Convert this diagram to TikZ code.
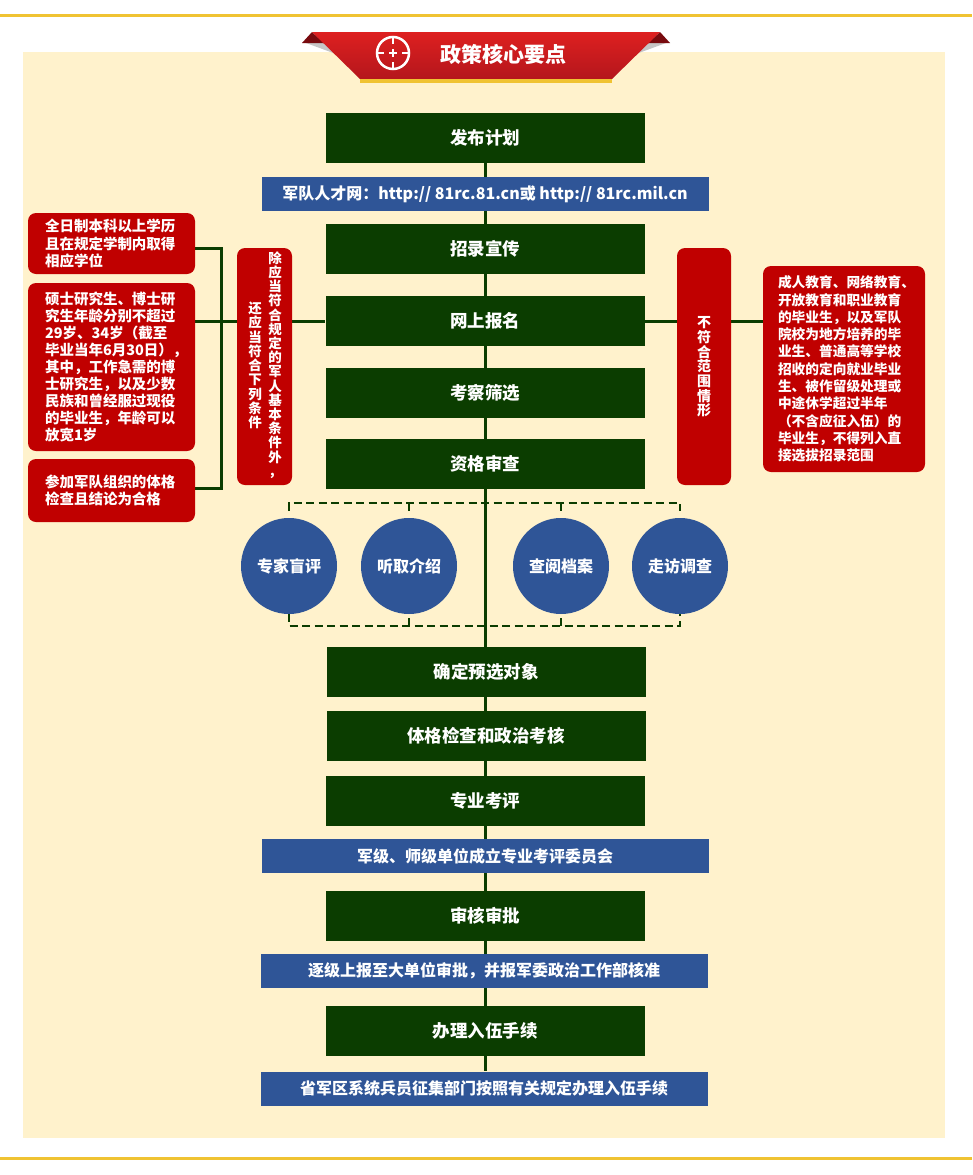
\documentclass[tikz,border=0pt]{standalone}
\usepackage{fontspec}
\setmainfont{Noto Sans CJK SC}
\usetikzlibrary{backgrounds}
\definecolor{gdark}{RGB}{11,61,0}
\definecolor{bblue}{RGB}{47,85,151}
\definecolor{rbox}{RGB}{192,0,0}
\definecolor{cream}{RGB}{255,242,204}
\definecolor{gold}{RGB}{240,195,50}
\definecolor{ribtop}{RGB}{222,32,32}
\definecolor{ribbot}{RGB}{180,22,28}
\definecolor{ribdark}{RGB}{120,10,14}
\begin{document}
\begin{tikzpicture}[x=1pt,y=-1pt,
  greenbox/.style={fill=gdark, text=white, font=\fontsize{17.5}{20}\selectfont\bfseries, minimum width=319pt, minimum height=50pt, inner sep=0pt},
  bluebox/.style={fill=bblue, text=white, font=\fontsize{16}{18}\selectfont\bfseries, minimum width=447pt, minimum height=34pt, inner sep=0pt},
  redbox/.style={fill=rbox, rounded corners=8pt, text=white, inner sep=0pt},
  redtext/.style={redbox, align=left, font=\fontsize{14.5}{17.1}\selectfont\bfseries, inner xsep=17pt, text width=133pt, minimum width=167pt},
  vtext/.style={align=center, text=white, inner sep=0pt},
  circ/.style={circle, fill=bblue, minimum size=96pt, inner sep=0pt, text=white, font=\fontsize{16}{18}\selectfont\bfseries},
  link/.style={draw=gdark, line width=3pt},
  dashlink/.style={draw=gdark, line width=2pt, dash pattern=on 8pt off 4.5pt}
]
\useasboundingbox (0,0) rectangle (972,1175);

% header ribbon
\fill[gray!45] (306,43) -- (326,43) -- (336,54) -- cycle;
\fill[gray!45] (666,43) -- (646,43) -- (636,54) -- cycle;
\fill[ribdark] (302,43) -- (312,32) -- (324,43) -- cycle;
\fill[ribdark] (670,43) -- (660,32) -- (648,43) -- cycle;
\shade[top color=ribtop, bottom color=ribbot] (312,32) -- (660,32) -- (612,79) -- (360,79) -- cycle;
\fill[gold] (360,79) rectangle (612,83);
\draw[white, line width=2.5pt] (393,53) circle[radius=16pt];
\draw[white, line width=2.5pt] (393,37) -- (393,44) (393,62) -- (393,69) (377,53) -- (384,53) (402,53) -- (409,53);
\draw[white, line width=2pt] (389,53) -- (397,53) (393,49) -- (393,57);
\node[text=white, font=\fontsize{21}{24}\selectfont\bfseries, inner sep=0pt] (title) at (503,54) {政策核心要点};

% main column
\node[greenbox] (plan) at (485,138) {发布计划};
\node[bluebox] (web1) at (485,194) {军队人才网：http:// 81rc.81.cn或 http:// 81rc.mil.cn};
\node[greenbox] (promo) at (485,249) {招录宣传};
\node[greenbox] (signup) at (485,321) {网上报名};
\node[greenbox] (screen) at (485,393) {考察筛选};
\node[greenbox] (review) at (485,464) {资格审查};
\node[circ] (c1) at (289,566) {专家盲评};
\node[circ] (c2) at (409,566) {听取介绍};
\node[circ] (c3) at (561,566) {查阅档案};
\node[circ] (c4) at (680,566) {走访调查};
\node[greenbox] (pre) at (486,672) {确定预选对象};
\node[greenbox] (phys) at (486,736) {体格检查和政治考核};
\node[greenbox] (prof) at (485,801) {专业考评};
\node[bluebox] (web2) at (485,856) {军级、师级单位成立专业考评委员会};
\node[greenbox] (approve) at (485,916) {审核审批};
\node[bluebox] (web3) at (484,971) {逐级上报至大单位审批，并报军委政治工作部核准};
\node[greenbox] (enlist) at (485,1031) {办理入伍手续};
\node[bluebox] (web4) at (484,1088.5) {省军区系统兵员征集部门按照有关规定办理入伍手续};

% left conditions
\node[redtext, minimum height=61pt] (condA) at (111.5,243.5) {全日制本科以上学历\\且在规定学制内取得\\相应学位};
\node[redtext, minimum height=168pt] (condB) at (111.5,367) {硕士研究生、博士研\\究生年龄分别不超过\\29岁、34岁（截至\\毕业当年6月30日），\\其中，工作急需的博\\士研究生，以及少数\\民族和曾经服过现役\\的毕业生，年龄可以\\放宽1岁};
\node[redtext, minimum height=63pt] (condC) at (111.5,490.5) {参加军队组织的体格\\检查且结论为合格};
\node[redbox, minimum width=55pt, minimum height=237pt] (cond) at (264.5,366.5) {};
\node[vtext, font=\fontsize{13.5}{14.2}\selectfont\bfseries] (condR) at (275,365) {除\\应\\当\\符\\合\\规\\定\\的\\军\\人\\基\\本\\条\\件\\外\\，};
\node[vtext, font=\fontsize{13.5}{14.3}\selectfont\bfseries] (condL) at (255,365.5) {还\\应\\当\\符\\合\\下\\列\\条\\件};

% right exclusion
\node[redbox, minimum width=54pt, minimum height=237pt] (excl) at (704,366.5) {};
\node[vtext, font=\fontsize{14}{14.7}\selectfont\bfseries] (exclT) at (704,367) {不\\符\\合\\范\\围\\情\\形};
\node[redbox, align=left, font=\fontsize{13.7}{17.3}\selectfont\bfseries, inner xsep=15pt, text width=132pt, minimum width=162pt, minimum height=206pt] (note) at (844,369) {成人教育、网络教育、\\开放教育和职业教育\\的毕业生，以及军队\\院校为地方培养的毕\\业生、普通高等学校\\招收的定向就业毕业\\生、被作留级处理或\\中途休学超过半年\\（不含应征入伍）的\\毕业生，不得列入直\\接选拔招录范围};

\coordinate (jA) at (221,248);
\coordinate (jC) at (221,488);
\coordinate (dtop) at (0,503);
\coordinate (dbot) at (0,626);

% dashed brackets
\draw[dashlink] ([yshift=7pt]c1.north) -- (c1 |- dtop) -- (c4 |- dtop) -- ([yshift=7pt]c4.north);
\draw[dashlink] (c2 |- dtop) -- ([yshift=7pt]c2.north);
\draw[dashlink] (c3 |- dtop) -- ([yshift=7pt]c3.north);
\draw[dashlink] (c1.south) -- (c1 |- dbot) -- (c4 |- dbot) -- (c4.south);
\draw[dashlink] (c2 |- dbot) -- (c2.south);
\draw[dashlink] (c3 |- dbot) -- (c3.south);

\begin{scope}[on background layer]
\fill[white] (0,0) rectangle (972,1175);
\fill[cream] (23,52) rectangle (945,1138);
\fill[gold] (0,13.5) rectangle (972,16.5);
\fill[gold] (0,1156.5) rectangle (972,1159.5);
\draw[link] (plan.south) -- (web4.north -| plan.south);
\draw[link] (condA.east |- jA) -- (jA) -- (jC) -- (condC.east |- jC);
\draw[link] (condB.east |- signup.west) -- (signup.west);
\draw[link] (signup.east) -- (note.west |- signup.east);
\end{scope}
\end{tikzpicture}
\end{document}
